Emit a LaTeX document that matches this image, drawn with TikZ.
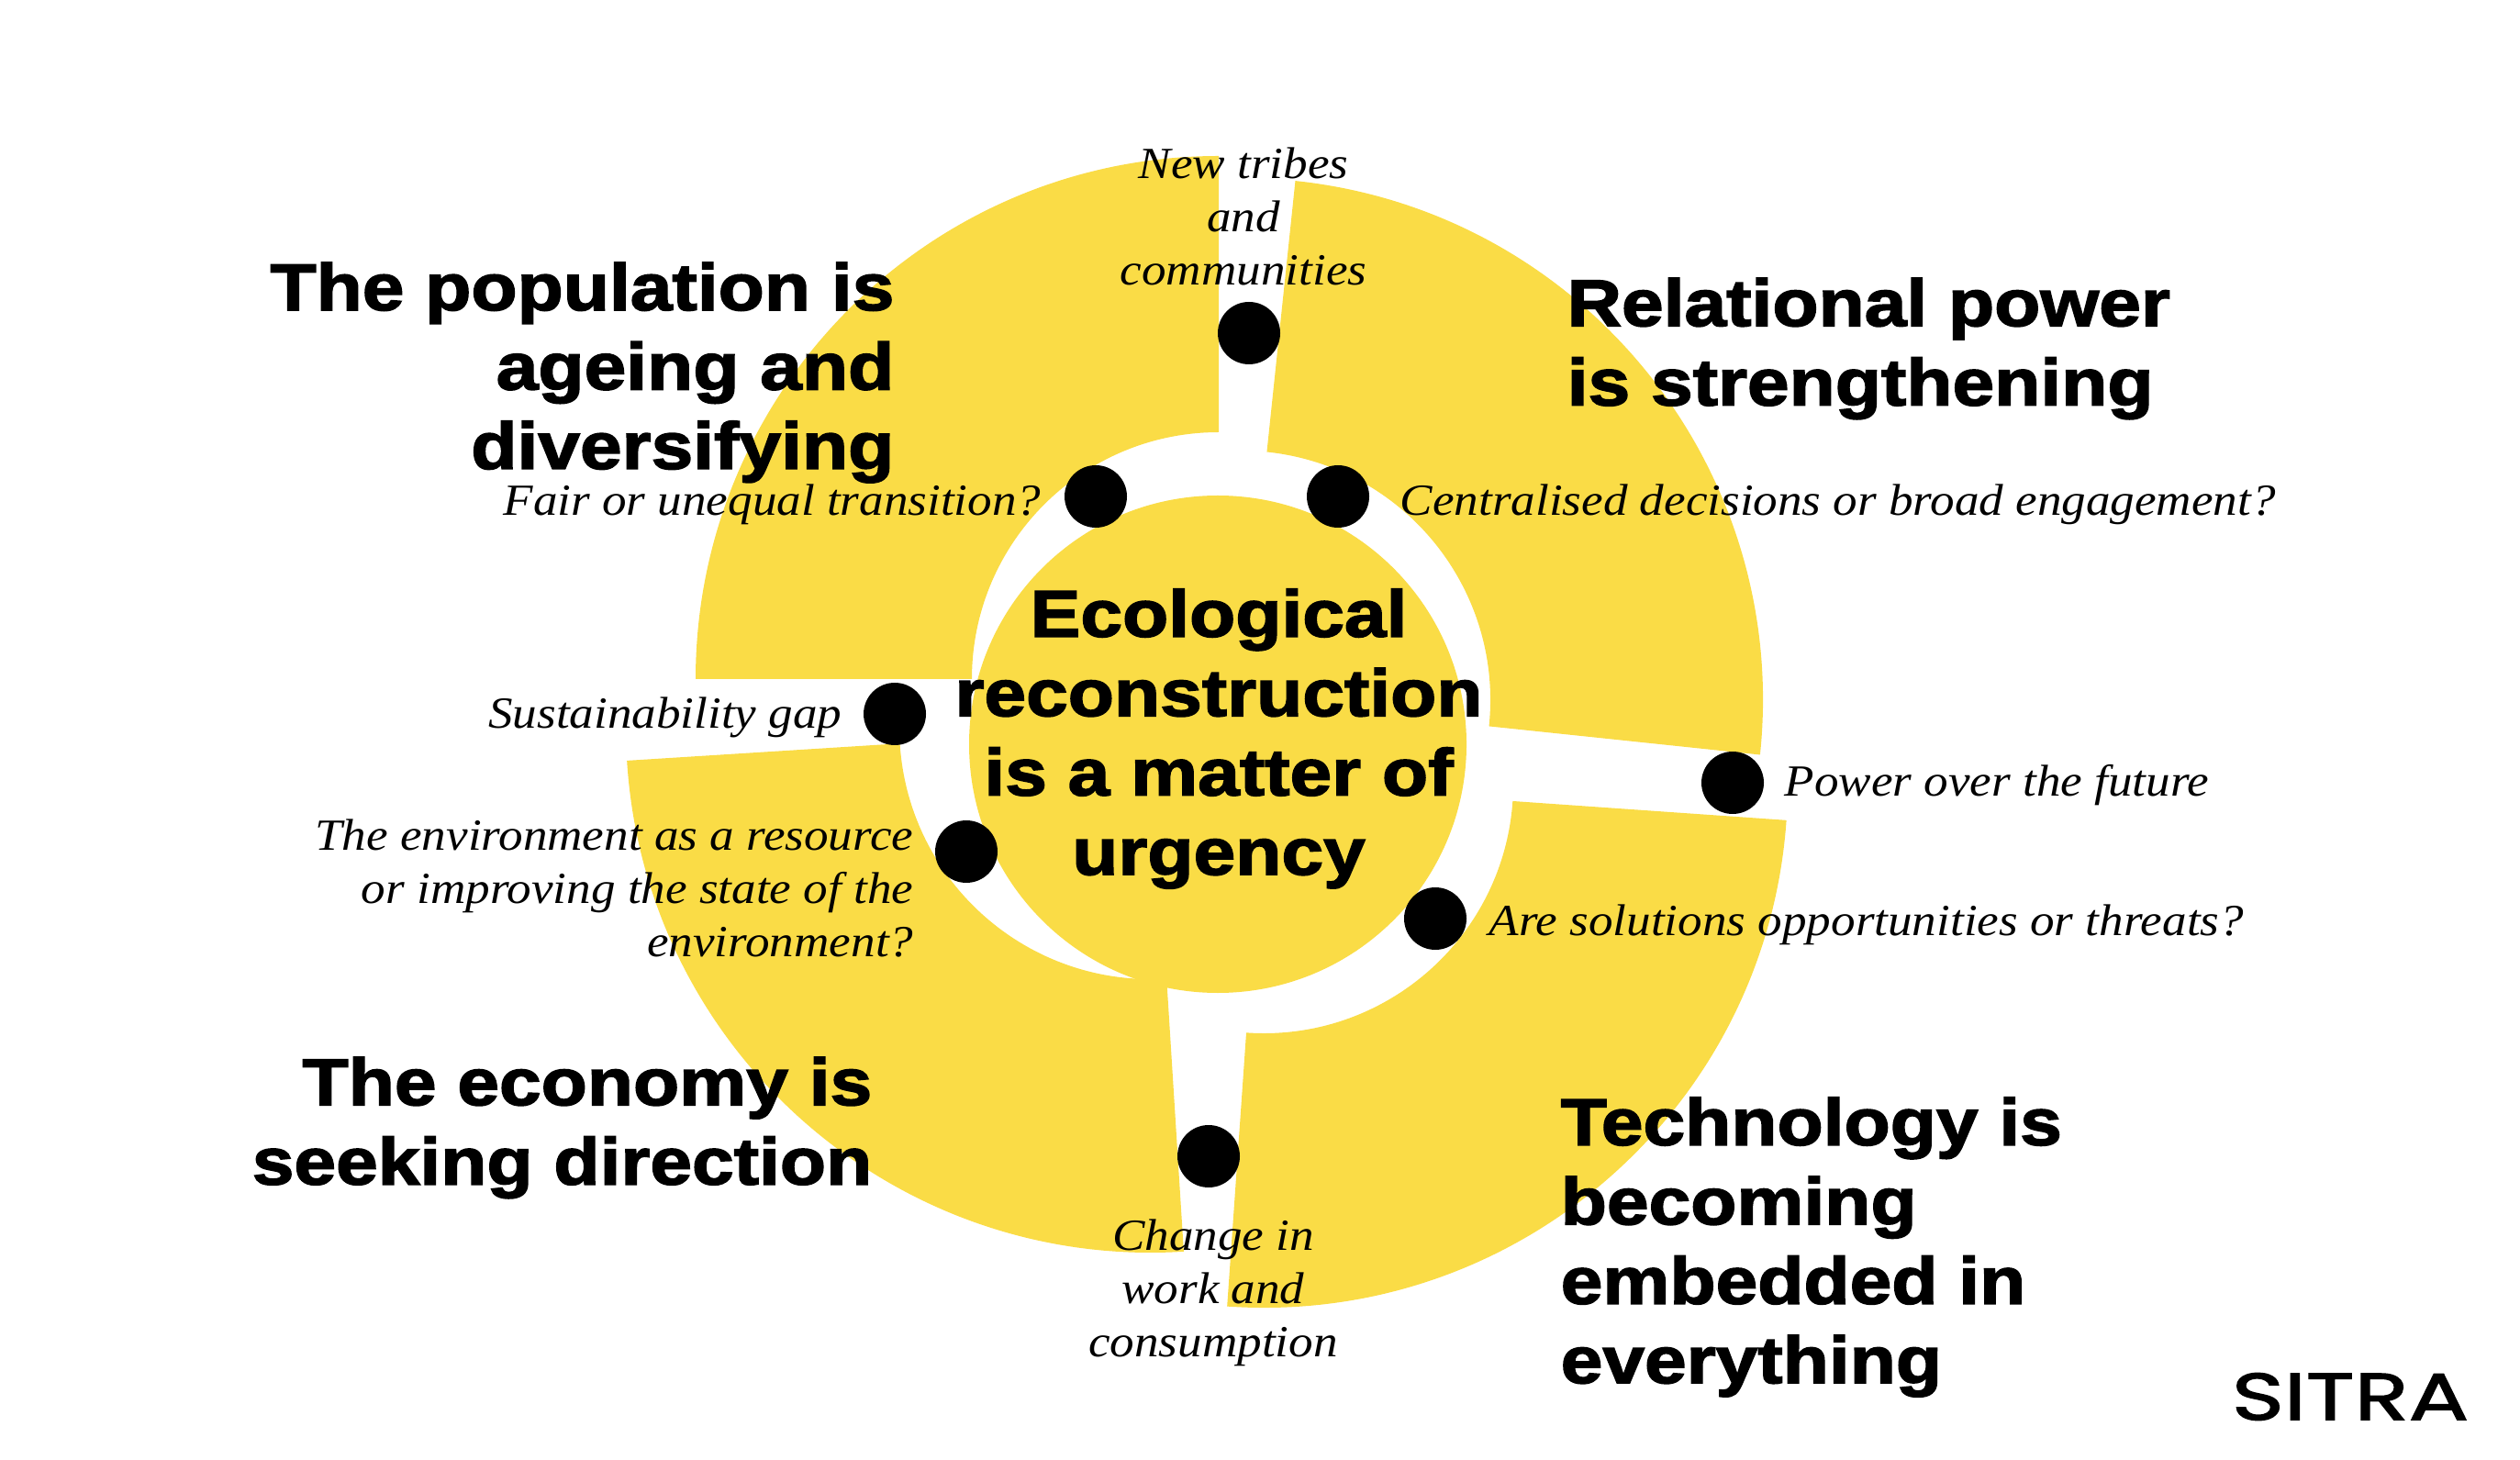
\documentclass[tikz,border=0pt]{standalone}
\usepackage{fontspec}
\setmainfont[FakeStretch=1.095]{Liberation Serif}
\newfontfamily\headfont[FakeBold=2.2,FakeStretch=1.14]{Liberation Sans}
\newfontfamily\logofont[FakeBold=2,FakeStretch=1.35]{Poppins}
\definecolor{sitrayellow}{HTML}{FADC46}
\tikzset{
    sector/.style={fill=sitrayellow, draw=none},
    heading/.style={inner sep=0pt, font=\headfont\bfseries\fontsize{20.5}{24.6}\selectfont},
    question/.style={inner sep=0pt, font=\itshape\fontsize{13.8}{16.5}\selectfont},
    dot/.style={draw=none, fill=black, circle, minimum size=0.68cm, inner sep=0pt}
}

\begin{document}
\begin{tikzpicture}
    \useasboundingbox (0,0) rectangle (27.46,15.9);

    % quarter rings: centre x, centre y, tilt, inner radius, outer radius, start angle
    \foreach \cx/\cy/\tilt/\inner/\outer/\start in {
        13.28/8.50/0/2.69/5.70/90,
        13.52/8.27/-6/2.72/5.69/0,
        13.77/7.36/-4/2.72/5.71/-90,
        12.54/7.97/3.6/2.74/5.72/180} {
        \fill[sector, shift={(\cx,\cy)}, rotate=\tilt]
            (\start:\outer) arc (\start:\start+90:\outer)
            -- (\start+90:\inner) arc (\start+90:\start:\inner) -- cycle;
    }
    \node (centre_disc) [sector, circle, minimum size=5.42cm, inner sep=0pt] at (13.27,7.79) {};

    \node (dot_tribes)   [dot] at (13.61,12.27) {};
    \node (dot_fair)     [dot] at (11.94,10.49) {};
    \node (dot_central)  [dot] at (14.58,10.49) {};
    \node (dot_gap)      [dot] at (9.75,8.12) {};
    \node (dot_resource) [dot] at (10.53,6.62) {};
    \node (dot_power)    [dot] at (18.88,7.37) {};
    \node (dot_threats)  [dot] at (15.64,5.89) {};
    \node (dot_work)     [dot] at (13.17,3.30) {};

    \node (population) [heading, anchor=east, align=right] at (9.75,11.84) {The population is\\ageing and\\diversifying};
    \node (relational) [heading, anchor=west, align=left] at (17.07,12.10) {Relational power\\is strengthening};
    \node (economy) [heading, anchor=east, align=right] at (9.51,3.61) {The economy is\\seeking direction};
    \node (technology) [heading, anchor=west, align=left] at (17.00,2.31) {Technology is\\becoming\\embedded in\\everything};
    \node (urgency) [heading, align=center] at (13.28,7.85) {Ecological\\reconstruction\\is a matter of\\urgency};

    \node (tribes) [question, align=center] at (13.55,13.54) {New tribes\\and\\communities};
    \node (fair) [question, anchor=east] at (11.35,10.40) {Fair or unequal transition?};
    \node (central) [question, anchor=west] at (15.25,10.40) {Centralised decisions or broad engagement?};
    \node (gap) [question, anchor=east] at (9.18,8.08) {Sustainability gap};
    \node (resource) [question, anchor=east, align=right] at (9.96,6.22) {The environment as a resource\\or improving the state of the\\environment?};
    \node (power) [question, anchor=west] at (19.44,7.34) {Power over the future};
    \node (threats) [question, anchor=west] at (16.22,5.82) {Are solutions opportunities or threats?};
    \node (work) [question, align=center] at (13.22,1.81) {Change in\\work and\\consumption};

    \node (logo) [inner sep=0pt, font=\logofont\fontsize{20.5}{20.5}\selectfont] at (25.61,0.68) {SITRA};
\end{tikzpicture}
\end{document}
